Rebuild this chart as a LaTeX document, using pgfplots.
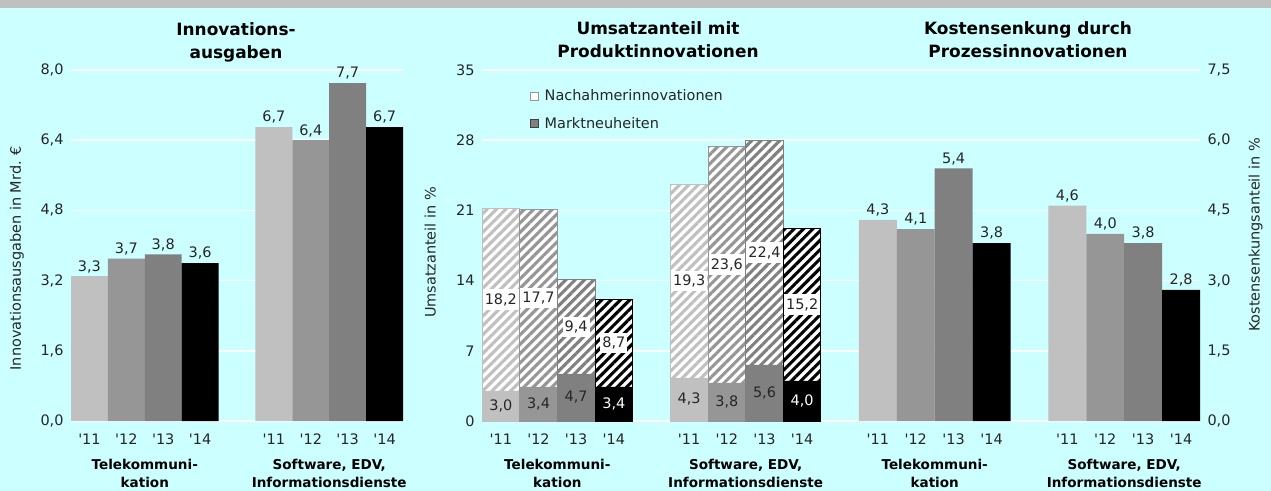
\documentclass[border=0pt]{standalone}
\usepackage{fontspec}
\setmainfont{DejaVu Sans}
\usepackage{pgfplots}
\usepackage{pgfplotstable}
\pgfplotsset{compat=1.18}
\usetikzlibrary{patterns.meta}

\definecolor{bg}{HTML}{CCFFFF}
\definecolor{kopf}{HTML}{C0C0C0}
\definecolor{j11}{HTML}{C0C0C0}
\definecolor{j12}{HTML}{969696}
\definecolor{j13}{HTML}{808080}
\definecolor{j14}{HTML}{000000}
\definecolor{txt}{HTML}{262626}

\newcommand{\lbl}{\fontsize{14.5}{17}\selectfont}
\newcommand{\grp}{\bfseries\fontsize{13.6}{18}\selectfont}
\newcommand{\ttl}{\bfseries\fontsize{17}{23.5}\selectfont}

% Umsatzanteil mit Produktinnovationen: m = Marktneuheiten, n = Nachahmerinnovationen
\pgfplotstableread{
x m n
0 3.0 18.2
5 4.3 19.3
}\uA
\pgfplotstableread{
x m n
1 3.4 17.7
6 3.8 23.6
}\uB
\pgfplotstableread{
x m n
2 4.7 9.4
7 5.6 22.4
}\uC
\pgfplotstableread{
x m n
3 3.4 8.7
8 4.0 15.2
}\uD

\pgfkeys{/pgf/number format/.cd, assume math mode=true, use comma, fixed, fixed zerofill, precision=1}

\pgfplotsset{
  panel/.style={
    scale only axis, height=351bp, anchor=south west,
    xmin=-0.5, xmax=8.5, ymin=0,
    axis line style={draw=none}, major tick length=0pt,
    ymajorgrids, major grid style={white, line width=1.6bp},
    xtick={0,1,2,3,5,6,7,8},
    xticklabels={\textquotesingle11,\textquotesingle12,\textquotesingle13,\textquotesingle14,
                 \textquotesingle11,\textquotesingle12,\textquotesingle13,\textquotesingle14},
    xticklabel style={yshift=-9bp},
    tick label style={font=\lbl, text=txt},
    clip=false,
  },
  saeule/.style={ybar, bar width=1, bar shift=0pt, draw=none, fill=#1,
    nodes near coords, nodes near coords style={font=\lbl, text=txt}},
}
\tikzset{gruppe/.style={font=\grp, align=center, anchor=north, inner sep=0pt, yshift=-38bp}}

% one year of the stacked panel: hatched share on top of the solid share
\newcommand{\umsatzjahr}[3]{%
  \addplot[forget plot, ybar, bar width=1, bar shift=0pt, draw=#2, line width=1bp, fill=white,
    postaction={pattern={Lines[angle=45,distance=6.6bp,line width=3.1bp]}, pattern color=#2}]
    table[x=x, y expr=\thisrow{m}+\thisrow{n}] {#1};
  \addplot[forget plot, ybar, bar width=1, bar shift=0pt, draw=none, fill=#2]
    table[x=x, y=m] {#1};
  \addplot[forget plot, draw=none, mark=none, nodes near coords, point meta=explicit,
    nodes near coords style={font=\lbl, text=txt, fill=white, anchor=center, inner xsep=2bp, inner ysep=4bp}]
    table[x=x, y expr=\thisrow{m}+\thisrow{n}/2, meta=n] {#1};
  \addplot[forget plot, draw=none, mark=none, nodes near coords, point meta=explicit,
    nodes near coords style={font=\lbl, text=#3, anchor=center}]
    table[x=x, y expr=\thisrow{m}/2, meta=m] {#1};
}

\begin{document}
\begin{tikzpicture}
\path[use as bounding box] (0,0) rectangle (1271bp,-491bp);
\fill[bg] (0,0) rectangle (1271bp,-491bp);
\fill[kopf] (0,0) rectangle (1271bp,-8bp);

\node[font=\ttl, align=center, anchor=north, inner sep=0pt] at (236bp,-22bp) {Innovations-\\ausgaben};
\node[font=\ttl, align=center, anchor=north, inner sep=0pt] at (658bp,-21bp) {Umsatzanteil mit\\Produktinnovationen};
\node[font=\ttl, align=center, anchor=north, inner sep=0pt] at (1028bp,-21bp) {Kostensenkung durch\\Prozessinnovationen};

% Innovationsausgaben
\begin{axis}[panel, at={(71bp,-421bp)}, width=332bp,
  ymax=8, ytick={0,1.6,3.2,4.8,6.4,8},
  yticklabel style={xshift=-4bp},
  ylabel={Innovationsausgaben in Mrd. €},
  every axis y label/.style={at={(axis description cs:-0.163,0.464)}, rotate=90, anchor=center, font=\lbl, text=txt}]
\addplot[saeule=j11] coordinates {(0,3.3) (5,6.7)};
\addplot[saeule=j12] coordinates {(1,3.7) (6,6.4)};
\addplot[saeule=j13] coordinates {(2,3.8) (7,7.7)};
\addplot[saeule=j14] coordinates {(3,3.6) (8,6.7)};
\node[gruppe] at (axis cs:1.5,0) {Telekommuni-\\kation};
\node[gruppe] at (axis cs:6.5,0) {Software, EDV,\\Informationsdienste};
\end{axis}

% Umsatzanteil mit Produktinnovationen
\begin{axis}[panel, at={(482bp,-421bp)}, width=339bp,
  ymax=35, ytick={0,7,14,21,28,35},
  yticklabel style={xshift=-4bp, /pgf/number format/precision=0},
  ylabel={Umsatzanteil in \%},
  every axis y label/.style={at={(axis description cs:-0.153,0.48)}, rotate=90, anchor=center, font=\lbl, text=txt},
  legend cell align=left,
  legend style={at={(axis description cs:0.142,0.95)}, anchor=north west, draw=none, fill=none,
    font=\lbl, text=txt, row sep=11bp, inner sep=0pt,
    /tikz/every odd column/.style={column sep=4bp}},
  legend image code/.code={\draw[#1] (0bp,-4bp) rectangle (8bp,4bp);}]
\addlegendimage{fill=white, draw=j12}
\addlegendentry{Nachahmerinnovationen}
\addlegendimage{fill=j13, draw=j14!75!white}
\addlegendentry{Marktneuheiten}
\umsatzjahr{\uA}{j11}{txt}
\umsatzjahr{\uB}{j12}{txt}
\umsatzjahr{\uC}{j13}{txt}
\umsatzjahr{\uD}{j14}{white}
\node[gruppe] at (axis cs:1.5,0) {Telekommuni-\\kation};
\node[gruppe] at (axis cs:6.5,0) {Software, EDV,\\Informationsdienste};
\end{axis}

% Kostensenkung durch Prozessinnovationen
\begin{axis}[panel, at={(821bp,-421bp)}, width=379bp, xmin=-1.5,
  ymax=7.5, ytick={0,1.5,3,4.5,6,7.5},
  yticklabel pos=right, yticklabel style={xshift=4bp},
  ylabel={Kostensenkungsanteil in \%},
  every axis y label/.style={at={(axis description cs:1.147,0.53)}, rotate=90, anchor=center, font=\lbl, text=txt}]
\addplot[saeule=j11] coordinates {(0,4.3) (5,4.6)};
\addplot[saeule=j12] coordinates {(1,4.1) (6,4.0)};
\addplot[saeule=j13] coordinates {(2,5.4) (7,3.8)};
\addplot[saeule=j14] coordinates {(3,3.8) (8,2.8)};
\node[gruppe] at (axis cs:1.5,0) {Telekommuni-\\kation};
\node[gruppe] at (axis cs:6.5,0) {Software, EDV,\\Informationsdienste};
\end{axis}
\end{tikzpicture}
\end{document}
